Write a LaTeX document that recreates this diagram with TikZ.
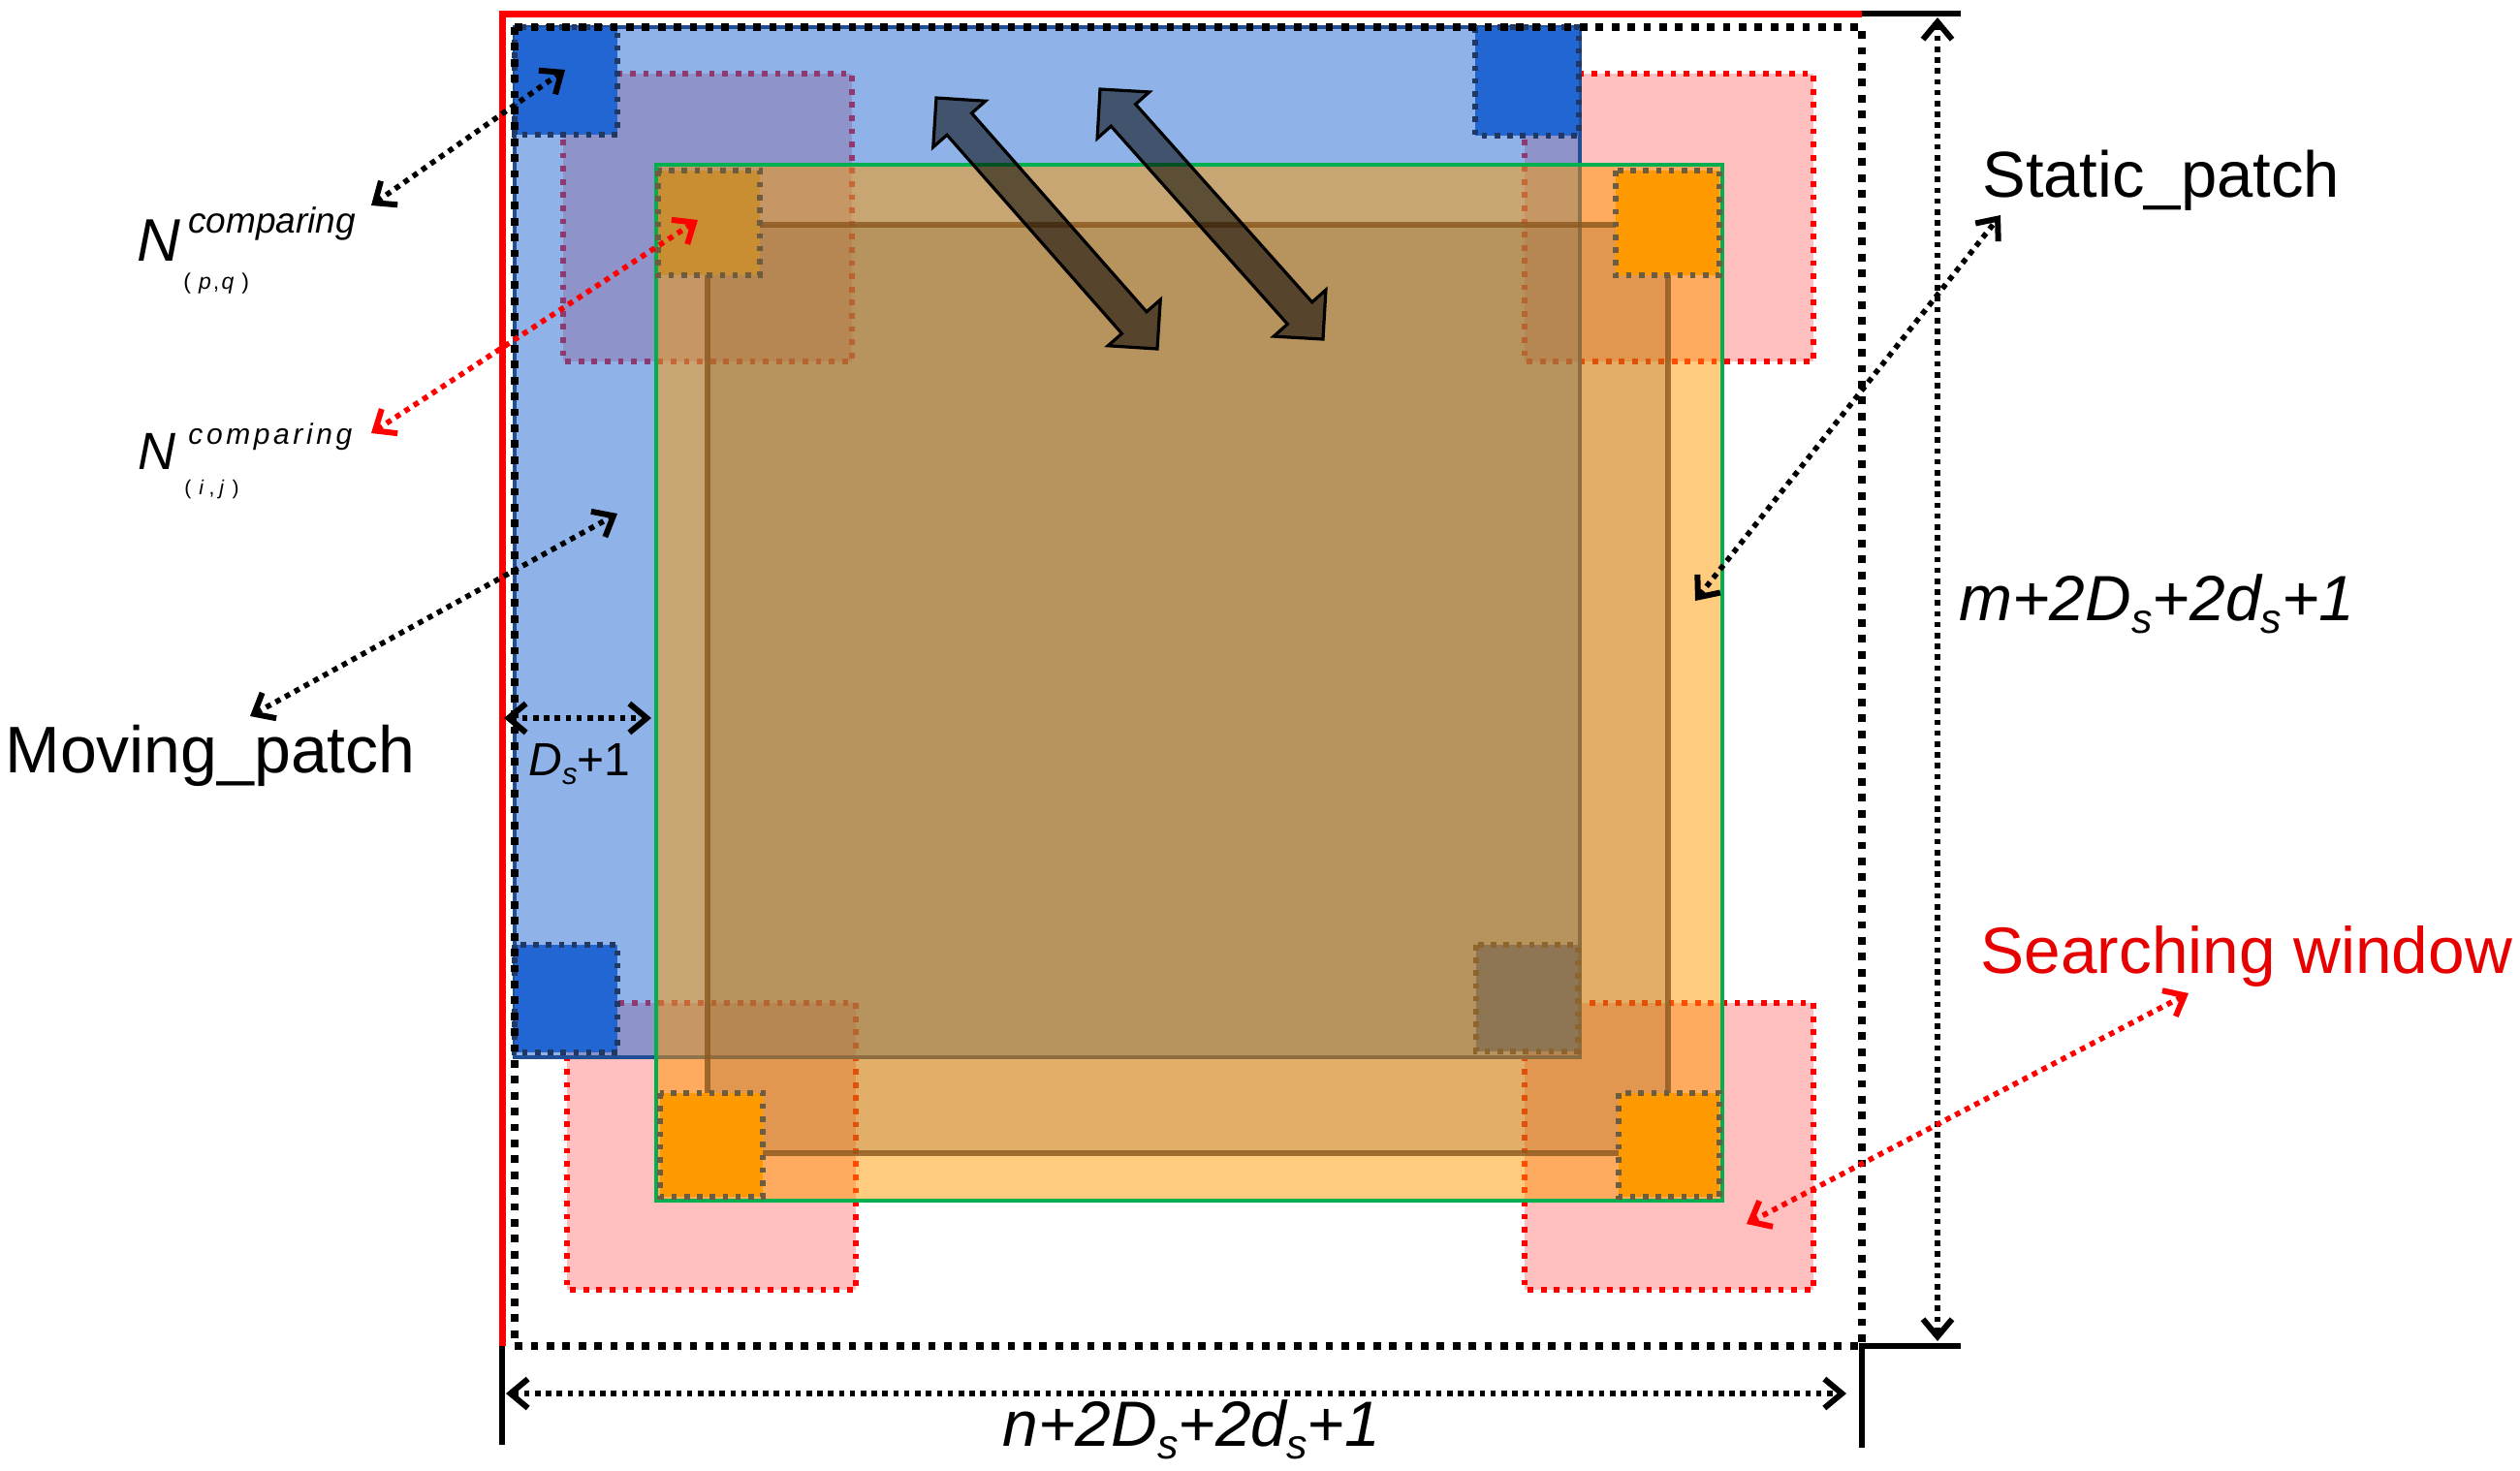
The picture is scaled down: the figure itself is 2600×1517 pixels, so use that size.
\documentclass[tikz,border=0pt]{standalone}
\usepackage{fontspec}
\usepackage{graphicx}
\setmainfont{Liberation Sans}
\usetikzlibrary{arrows.meta,calc}

\definecolor{bluefill}{RGB}{40,110,213}
\definecolor{blueedge}{RGB}{31,78,150}
\definecolor{bluesq}{RGB}{33,102,210}
\definecolor{navyedge}{RGB}{31,56,100}
\definecolor{pinkfill}{RGB}{255,191,191}
\definecolor{orangeA}{RGB}{255,153,0}
\definecolor{orangeTL}{RGB}{201,142,50}
\definecolor{brownin}{RGB}{137,92,32}
\definecolor{brownline}{RGB}{139,88,30}
\definecolor{sqedge}{RGB}{110,92,62}
\definecolor{greenedge}{RGB}{0,176,80}
\definecolor{labred}{RGB}{230,0,0}

\newcommand\lowsub[1]{\raisebox{-0.2em}{\scalebox{0.65}{#1}}}
\newcommand\blockarrow[2]{%
\filldraw[blockar] (#1)
 -- ($(#1)!18pt!(#2)!18pt!90:(#2)$)
 -- ($(#1)!18pt!(#2)!8.5pt!90:(#2)$)
 -- ($(#2)!18pt!(#1)!8.5pt!-90:(#1)$)
 -- ($(#2)!18pt!(#1)!18pt!-90:(#1)$)
 -- (#2)
 -- ($(#2)!18pt!(#1)!18pt!90:(#1)$)
 -- ($(#2)!18pt!(#1)!8.5pt!90:(#1)$)
 -- ($(#1)!18pt!(#2)!8.5pt!-90:(#2)$)
 -- ($(#1)!18pt!(#2)!18pt!-90:(#2)$)
 -- cycle;}

\tikzset{
  window/.style={fill=pinkfill, draw=red, line width=2.9pt, dash pattern=on 2.9pt off 3.9pt},
  bsq/.style={fill=bluesq, draw=navyedge, line width=2.8pt, dash pattern=on 2.8pt off 3.8pt},
  osq/.style={draw=sqedge, line width=2.8pt, dash pattern=on 2.8pt off 3.8pt},
  outerdot/.style={draw=black, line width=3.9pt, dash pattern=on 3.9pt off 4.3pt},
  tickline/.style={draw=black, line width=2.8pt},
  dotarr/.style={line width=2.8pt, dash pattern=on 2.8pt off 2.8pt,
     {Straight Barb[length=9pt,width=15pt,line width=3pt]}-{Straight Barb[length=9pt,width=15pt,line width=3pt]}},
  blockar/.style={fill=black, fill opacity=0.53, draw=black, line width=1.6pt, line join=miter},
  lbl/.style={inner sep=0pt, anchor=base west, font=\fontsize{33.5}{40}\selectfont},
}

\begin{document}
\begin{tikzpicture}[x=0.5pt,y=-0.5pt]
\useasboundingbox (0,0) rectangle (2600,1517);

% searching windows (bottom layer)
\draw[window] (581,76) rectangle (879,373);
\draw[window] (1573,76) rectangle (1871,373);
\draw[window] (585,1035) rectangle (883,1331);
\draw[window] (1573,1035) rectangle (1871,1331);

% moving patch
\draw[fill=bluefill, fill opacity=0.52, draw=blueedge, line width=2.2pt] (531,28) rectangle (1630,1091);
\draw[bsq] (531,28) rectangle (637,139);
\draw[bsq] (1522,28) rectangle (1629,140);
\draw[bsq] (531,975) rectangle (637,1086);
\draw[bsq] (1523,975) rectangle (1628,1085);

% static patch
\fill[orangeA, opacity=0.5] (677,170) rectangle (1777,1239);
\fill[brownin, opacity=0.25] (730,232) rectangle (1721,1190);
\draw[brownline, opacity=0.8, line width=2.7pt] (730,232) rectangle (1721,1190);
\draw[greenedge, line width=2.4pt] (677,170) rectangle (1777,1239);
\draw[osq, fill=orangeTL] (679,176) rectangle (784,284);
\draw[osq, fill=orangeA] (1667,176) rectangle (1774,284);
\draw[osq, fill=orangeA] (681,1128) rectangle (787,1235);
\draw[osq, fill=orangeA] (1670,1128) rectangle (1774,1235);

% block double arrows
\coordinate (ba1) at (966,101);
\coordinate (bb1) at (1194,360);
\coordinate (ba2) at (1135,92);
\coordinate (bb2) at (1365,350);
\blockarrow{ba1}{bb1}
\blockarrow{ba2}{bb2}

% outer window and dimension frame
\draw[outerdot] (531,28) rectangle (1921,1389);
\draw[red, line width=3.5pt] (518,1389) -- (518,14) -- (1921,14);
\draw[tickline] (1921,14) -- (2023,14);
\draw[tickline] (518,1389) -- (518,1491);
\draw[tickline] (1921,1494) -- (1921,1389) -- (2023,1389);

% dimension arrows
\coordinate (vtop) at (1999,18);
\coordinate (vbot) at (1999,1384);
\coordinate (hleft) at (522,1438);
\coordinate (hright) at (1905,1438);
\draw[dotarr] (vtop) -- (vbot);
\draw[dotarr] (hleft) -- (hright);

% labels
\node[lbl, font=\fontsize{34}{40}\selectfont] (moving) at (5,797) {Moving\_patch};
\node[lbl] (static) at (2045,203) {Static\_patch};
\node[lbl, text=labred, font=\fontsize{33.8}{40}\selectfont] (search) at (2043,1004) {Searching window};
\node[lbl, font=\fontsize{33}{40}\selectfont\itshape] (mlab) at (2021,640) {m+2D\lowsub{s}+2d\lowsub{s}+1};
\node[lbl, font=\fontsize{33}{40}\selectfont\itshape] (nlab) at (1034,1492) {n+2D\lowsub{s}+2d\lowsub{s}+1};
\node[lbl, font=\fontsize{24}{28}\selectfont] (dlab) at (545,800) {\textit{D}\lowsub{\textit{s}}+1};

\node[lbl, font=\fontsize{31}{36}\selectfont\itshape] (N1) at (141,269) {N};
\node[lbl, font=\fontsize{18.5}{22}\selectfont\itshape] (N1sup) at (194,240) {comparing};
\node[lbl, font=\fontsize{11.5}{14}\selectfont] (N1sub) at (189,298) {(\kern4pt\textit{p}\kern1pt,\kern1.2pt\textit{q}\kern4pt)};

\node[lbl, font=\fontsize{27}{32}\selectfont\itshape] (N2) at (142,484) {N};
\node[lbl, font=\fontsize{15}{18}\selectfont\itshape] (N2sup) at (194,458) {c\kern1.8pt o\kern1.8pt m\kern1.8pt p\kern1.8pt a\kern1.8pt r\kern1.8pt i\kern1.8pt n\kern1.8pt g};
\node[lbl, font=\fontsize{10.5}{13}\selectfont] (N2sub) at (190,510) {(\kern4pt\textit{i}\kern2.5pt,\kern2.5pt\textit{j}\kern4pt)};

% pointer arrows
\coordinate (pq1) at (383,212);
\coordinate (pq2) at (583,72);
\coordinate (ij1) at (383,447);
\coordinate (ij2) at (720,227);
\coordinate (mv1) at (258,739);
\coordinate (mv2) at (637,530);
\coordinate (ds1) at (520,741);
\coordinate (ds2) at (672,741);
\coordinate (st1) at (1749,620);
\coordinate (st2) at (2064,222);
\coordinate (sw1) at (1802,1263);
\coordinate (sw2) at (2258,1025);
\draw[dotarr] (pq1) -- (pq2);
\draw[dotarr, red] (ij1) -- (ij2);
\draw[dotarr] (mv1) -- (mv2);
\draw[dotarr] (ds1) -- (ds2);
\draw[dotarr] (st1) -- (st2);
\draw[dotarr, red] (sw1) -- (sw2);
\end{tikzpicture}
\end{document}
